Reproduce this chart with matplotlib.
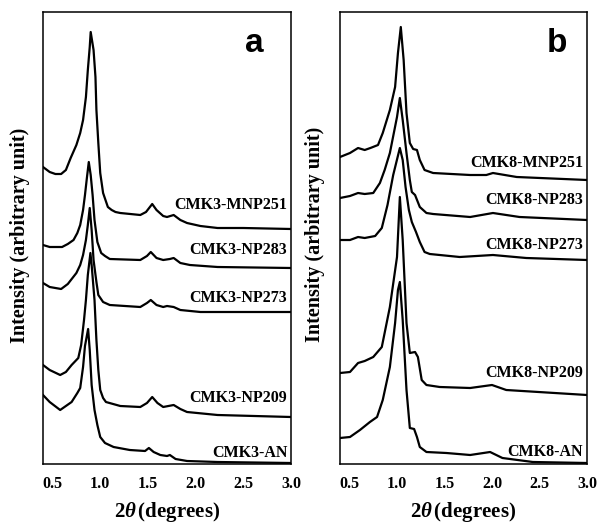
"""Small-angle XRD patterns of CMK-3 (a) and CMK-8 (b) carbons, stacked."""

import matplotlib
matplotlib.use("Agg")
import matplotlib.pyplot as plt

# ── Data: 2θ (degrees) and stacked intensity (arbitrary units) ────────────────

LABELS_A = ["CMK3-MNP251", "CMK3-NP283", "CMK3-NP273", "CMK3-NP209", "CMK3-AN"]
LABELS_B = ["CMK8-MNP251", "CMK8-NP283", "CMK8-NP273", "CMK8-NP209", "CMK8-AN"]

# panel a
a1_x = [0.40, 0.47, 0.53, 0.59, 0.64, 0.69, 0.75, 0.79, 0.82, 0.85, 0.87, 0.89,
        0.90, 0.93, 0.95, 0.96, 0.98, 1.00, 1.03, 1.08, 1.12, 1.16, 1.21, 1.42,
        1.48, 1.545, 1.59, 1.66, 1.70, 1.77, 1.84, 1.91, 2.05, 2.23, 2.50, 3.00]
a1_y = [297, 292, 290, 290, 294, 306, 319, 331, 344, 367, 394, 417,
        432, 414, 387, 354, 321, 291, 271, 257, 254, 252, 251, 249,
        252, 260, 254, 248, 247, 249, 244, 241, 238, 236, 236, 235]

a2_x = [0.40, 0.47, 0.60, 0.66, 0.72, 0.76, 0.79, 0.82, 0.84, 0.86, 0.88, 0.90,
        0.92, 0.94, 0.97, 1.01, 1.05, 1.10, 1.42, 1.49, 1.53, 1.59, 1.66, 1.73,
        1.77, 1.84, 1.94, 2.23, 3.00]
a2_y = [219, 217, 217, 220, 224, 231, 239, 254, 269, 286, 302, 289,
        269, 244, 222, 211, 208, 205, 204, 208, 212, 206, 204, 205,
        206, 201, 199, 197, 196]

a3_x = [0.40, 0.47, 0.59, 0.66, 0.75, 0.79, 0.82, 0.85, 0.87, 0.89, 0.91, 0.93,
        0.96, 0.98, 1.03, 1.10, 1.42, 1.49, 1.53, 1.59, 1.66, 1.70, 1.77, 1.84,
        2.05, 3.00]
a3_y = [181, 177, 175, 180, 191, 199, 209, 224, 239, 256, 234, 204,
        182, 169, 162, 159, 157, 161, 164, 159, 157, 158, 157, 154,
        152, 152]

a4_x = [0.40, 0.47, 0.58, 0.64, 0.70, 0.77, 0.80, 0.83, 0.85, 0.87, 0.897, 0.91,
        0.94, 0.96, 0.98, 1.00, 1.03, 1.06, 1.21, 1.42, 1.49, 1.545, 1.60, 1.66,
        1.77, 1.84, 1.91, 2.23, 3.00]
a4_y = [99, 94, 89, 92, 99, 106, 119, 144, 164, 189, 211, 199,
        164, 124, 94, 74, 66, 62, 58, 57, 61, 67, 61, 57,
        59, 55, 52, 49, 47]

a5_x = [0.40, 0.47, 0.58, 0.64, 0.70, 0.76, 0.79, 0.82, 0.84, 0.873, 0.89, 0.91,
        0.94, 0.97, 1.00, 1.05, 1.14, 1.31, 1.47, 1.51, 1.56, 1.63, 1.70, 1.73,
        1.79, 1.91, 2.23, 3.00]
a5_y = [69, 62, 54, 58, 62, 71, 76, 97, 118, 135, 114, 79,
        54, 39, 27, 21, 17, 14, 13, 16, 12, 9, 8, 9,
        5, 3, 2, 1]

# panel b
b1_x = [0.40, 0.505, 0.59, 0.66, 0.72, 0.80, 0.85, 0.925, 0.98, 1.01, 1.04, 1.07,
        1.10, 1.135, 1.17, 1.21, 1.24, 1.29, 1.38, 1.77, 1.94, 2.01, 2.26, 3.00]
b1_y = [307, 311, 316, 314, 316, 319, 331, 354, 377, 411, 437, 404,
        351, 321, 315, 314, 304, 294, 291, 289, 289, 291, 287, 284]

b2_x = [0.40, 0.505, 0.59, 0.66, 0.75, 0.82, 0.87, 0.925, 1.00, 1.03, 1.06, 1.10,
        1.135, 1.156, 1.19, 1.24, 1.31, 1.38, 1.77, 2.01, 2.29, 3.00]
b2_y = [266, 268, 271, 270, 271, 281, 294, 311, 347, 366, 344, 311,
        284, 272, 269, 257, 251, 250, 247, 251, 247, 244]

b3_x = [0.40, 0.505, 0.59, 0.66, 0.77, 0.84, 0.90, 0.96, 1.03, 1.06, 1.09, 1.125,
        1.156, 1.20, 1.24, 1.29, 1.345, 1.66, 2.01, 2.36, 3.00]
b3_y = [224, 224, 227, 226, 228, 236, 259, 289, 316, 304, 277, 254,
        242, 232, 222, 212, 210, 207, 209, 206, 204]

b4_x = [0.40, 0.505, 0.59, 0.66, 0.75, 0.84, 0.925, 1.00, 1.03, 1.06, 1.10, 1.135,
        1.19, 1.22, 1.26, 1.31, 1.45, 1.77, 2.00, 2.15, 3.00]
b4_y = [91, 92, 101, 103, 107, 117, 157, 207, 267, 224, 141, 111,
        112, 107, 84, 79, 77, 76, 79, 74, 69]

b5_x = [0.40, 0.505, 0.61, 0.715, 0.79, 0.85, 0.925, 0.98, 1.01, 1.03, 1.06, 1.10,
        1.135, 1.18, 1.21, 1.24, 1.31, 1.52, 1.77, 1.98, 2.11, 2.43, 3.00]
b5_y = [26, 27, 34, 42, 47, 64, 97, 141, 174, 182, 144, 74,
        36, 35, 27, 17, 12, 11, 9, 12, 6, 2, 1]

CURVES_A = [(a1_x, a1_y), (a2_x, a2_y), (a3_x, a3_y), (a4_x, a4_y), (a5_x, a5_y)]
CURVES_B = [(b1_x, b1_y), (b2_x, b2_y), (b3_x, b3_y), (b4_x, b4_y), (b5_x, b5_y)]

# vertical centre of each curve label (same units as intensity)
LABEL_Y_A = [259, 214, 166, 66, 11]
LABEL_Y_B = [301, 264, 219, 91, 12]

XTICKS = [0.5, 1.0, 1.5, 2.0, 2.5, 3.0]


# ── Style ─────────────────────────────────────────────────────────────────────

plt.rcParams["font.family"] = ["Liberation Serif", "DejaVu Serif"]
plt.rcParams["font.weight"] = "bold"
plt.rcParams["mathtext.fontset"] = "custom"
plt.rcParams["mathtext.rm"] = "Liberation Serif:bold"
plt.rcParams["mathtext.it"] = "Liberation Serif:italic:bold"
plt.rcParams["mathtext.bf"] = "Liberation Serif:bold"


def draw_panel(ax, curves, labels, label_y, letter, letter_x):
    for (x, y), name, ly in zip(curves, labels, label_y):
        ax.plot(x, y, color="black", linewidth=1.6, solid_joinstyle="round")
        ax.text(2.96, ly, name, ha="right", va="center",
                fontsize=11.5, fontweight="bold")

    ax.text(letter_x, 0.93, letter, transform=ax.transAxes, ha="center",
            va="center", fontsize=24, family="Liberation Sans")

    ax.set_xlim(0.4, 3.0)
    ax.set_ylim(0, 452)
    ax.set_xticks(XTICKS)
    ax.set_xticklabels([f"{t:.1f}" for t in XTICKS], fontsize=11.5,
                       fontweight="bold")
    ax.set_yticks([])
    ax.tick_params(axis="x", length=0, pad=9)
    for sp in ax.spines.values():
        sp.set_linewidth(1.1)

    ax.set_xlabel(r"2$\theta\,$(degrees)", fontsize=15, fontweight="bold",
                  va="center")
    ax.xaxis.set_label_coords(0.5, -0.107)
    ax.set_ylabel("Intensity (arbitrary unit)", fontsize=14.5,
                  fontweight="bold", va="center")


def main():
    fig = plt.figure(figsize=(5.99, 5.25), dpi=100)
    ax_a = fig.add_axes([43 / 599, 61 / 525, 248 / 599, 452 / 525])
    ax_b = fig.add_axes([340 / 599, 61 / 525, 247 / 599, 452 / 525])

    draw_panel(ax_a, CURVES_A, LABELS_A, LABEL_Y_A, "a", 0.851)
    draw_panel(ax_b, CURVES_B, LABELS_B, LABEL_Y_B, "b", 0.879)

    ax_a.yaxis.set_label_coords(-0.093, 0.505)
    ax_b.yaxis.set_label_coords(-0.102, 0.507)

    fig.savefig("out.png", dpi=100)
    plt.close(fig)


if __name__ == "__main__":
    main()
